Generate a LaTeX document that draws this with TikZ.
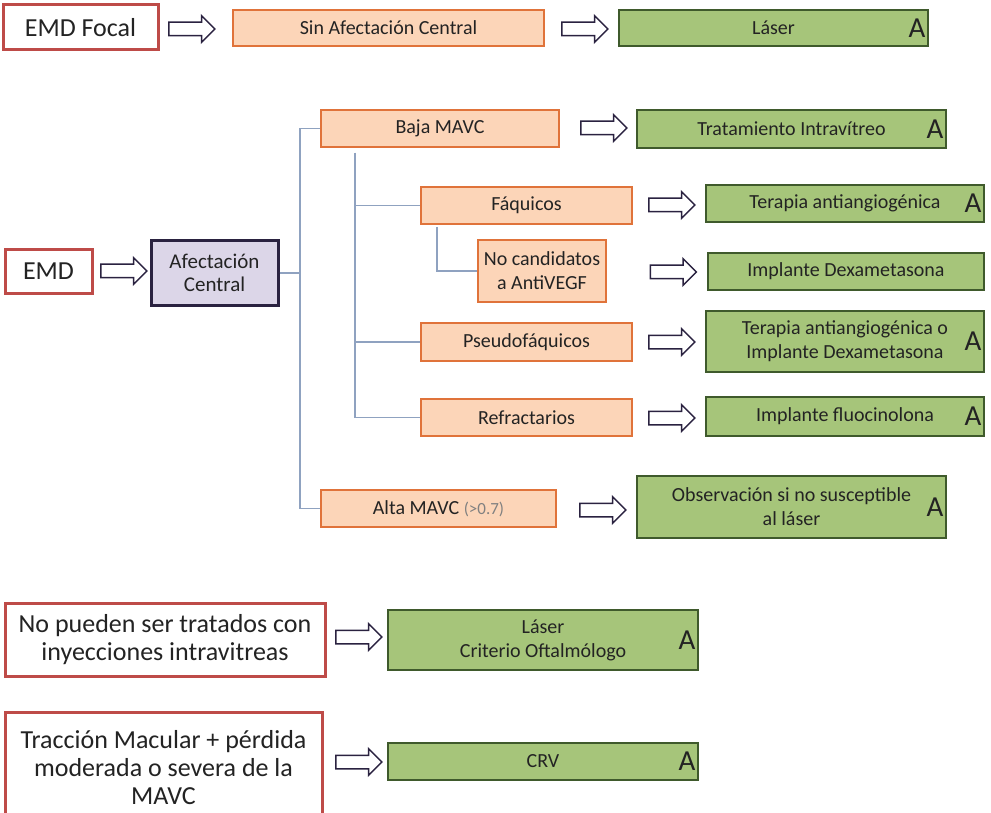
\documentclass[tikz,border=0pt]{standalone}
\usepackage{fontspec}
\setmainfont{Carlito}
\usepackage{tikz}
\usetikzlibrary{shapes,arrows}
\definecolor{cause}{HTML}{BE4B48}
\definecolor{condfill}{HTML}{FCD5B8}
\definecolor{conddraw}{HTML}{E0733A}
\definecolor{treatfill}{HTML}{A6C57A}
\definecolor{treatdraw}{HTML}{3F5A2C}
\definecolor{hubfill}{HTML}{DCD6E8}
\definecolor{hubdraw}{HTML}{2A2240}
\definecolor{branchcol}{HTML}{8FA2C0}
\definecolor{ink}{HTML}{232323}
\tikzstyle{cause} = [draw=cause, line width=3pt, fill=white, text=ink, align=center, font=\fontsize{26}{28}\selectfont]
\tikzstyle{cond} = [draw=conddraw, line width=1.3pt, fill=condfill, text=ink, align=center, font=\fontsize{20}{24}\selectfont]
\tikzstyle{treat} = [draw=treatdraw, line width=1.3pt, fill=treatfill, text=ink, align=center, font=\fontsize{20}{24}\selectfont]
\tikzstyle{hub} = [draw=hubdraw, line width=3pt, fill=hubfill, text=ink, align=center, font=\fontsize{21}{23}\selectfont]
\tikzstyle{bigarrow} = [single arrow, draw=hubdraw, line width=1.5pt, fill=white, minimum height=46pt, minimum width=0pt, inner sep=6pt, single arrow head extend=6.5pt]
\tikzstyle{branch} = [draw=branchcol, line width=1.2pt]
\tikzstyle{grade} = [anchor=east, inner sep=3pt, text=ink, font=\fontsize{29}{29}\selectfont]

\begin{document}
\begin{tikzpicture}[x=1pt, y=-1pt]
\useasboundingbox (0,0) rectangle (991,813);
% focal edema
\node[cause, minimum width=155pt, minimum height=45pt] (emdf) at (80.5,27.5) {EMD Focal};
\node[bigarrow] (af1) at (188.5,29) {};
\node[cond, minimum width=311pt, minimum height=36pt] (sinac) at (388.5,28) {Sin Afectación Central};
\node[bigarrow] (af2) at (581.5,29) {};
\node[treat, minimum width=309pt, minimum height=36pt, label={[grade]east:A}] (laser) at (773.5,28) {Láser};

% central edema
\node[cause, minimum width=87pt, minimum height=43pt] (emd) at (48.5,271.5) {EMD};
\node[bigarrow] (ae) at (120.5,271) {};
\node[hub, minimum width=127pt, minimum height=64pt] (ac) at (214.5,273) {Afectación\\Central};

\node[cond, minimum width=238pt, minimum height=37pt] (baja) at (440,128.5) {Baja MAVC};
\node[bigarrow] (ab) at (600.5,128) {};
\node[treat, minimum width=309pt, minimum height=38pt, label={[grade]east:A}] (intrav) at (791.5,129) {Tratamiento Intravítreo};

\node[cond, minimum width=211pt, minimum height=37pt] (faq) at (526.5,205.5) {Fáquicos};
\node[bigarrow] (afq) at (668.5,205) {};
\node[treat, minimum width=278pt, minimum height=37pt, label={[grade]east:A}] (antiang) at (845,203.5) {Terapia antiangiogénica};

\node[cond, minimum width=128pt, minimum height=62pt] (nocand) at (542,271) {No candidatos\\a AntiVEGF};
\node[bigarrow] (anc) at (670,272) {};
\node[treat, minimum width=276pt, minimum height=37pt] (dexa) at (846,271.5) {Implante Dexametasona};

\node[cond, minimum width=211pt, minimum height=38pt] (pseudo) at (526.5,342) {Pseudofáquicos};
\node[bigarrow] (aps) at (668.5,342) {};
\node[treat, minimum width=278pt, minimum height=61pt, label={[grade]east:A}] (antidexa) at (845,341.5) {Terapia antiangiogénica o\\Implante Dexametasona};

\node[cond, minimum width=211pt, minimum height=37pt] (refr) at (526.5,417.5) {Refractarios};
\node[bigarrow] (arf) at (668.5,418) {};
\node[treat, minimum width=278pt, minimum height=39pt, label={[grade]east:A}] (fluo) at (845,416.5) {Implante fluocinolona};

\node[cond, minimum width=235pt, minimum height=37pt] (alta) at (438.5,508.5) {Alta MAVC {\color{gray}\fontsize{17}{20}\selectfont(>0.7)}};
\node[bigarrow] (aal) at (599.5,510) {};
\node[treat, minimum width=309pt, minimum height=62pt, label={[grade]east:A}] (obs) at (791.5,507) {Observación si no susceptible\\al láser};

% tree lines
\coordinate (j1) at (300,273);
\coordinate (j2) at (355,153);
\coordinate (j3) at (437,227);
\draw[branch] (ac.east) -- (j1);
\draw[branch] (baja.west) -| (j1) |- (alta.west);
\draw[branch] (j2) |- (faq.west);
\draw[branch] (j2) |- (pseudo.west);
\draw[branch] (j2) |- (refr.west);
\draw[branch] (j3) |- (nocand.west);

% other cases
\node[cause, minimum width=320pt, minimum height=73pt] (nopued) at (165,639.5) {No pueden ser tratados con\\inyecciones intravitreas};
\node[bigarrow] (anp) at (355.5,637) {};
\node[treat, minimum width=310pt, minimum height=60pt, label={[grade]east:A}] (criterio) at (543,640) {Láser\\Criterio Oftalmólogo};

\node[cause, minimum width=317pt, minimum height=112pt] (tracc) at (163.5,768) {Tracción Macular + pérdida\\moderada o severa de la\\MAVC};
\node[bigarrow] (atr) at (355.5,762) {};
\node[treat, minimum width=310pt, minimum height=37pt, label={[grade]east:A}] (crv) at (543,761.5) {CRV};
\end{tikzpicture}
\end{document}
